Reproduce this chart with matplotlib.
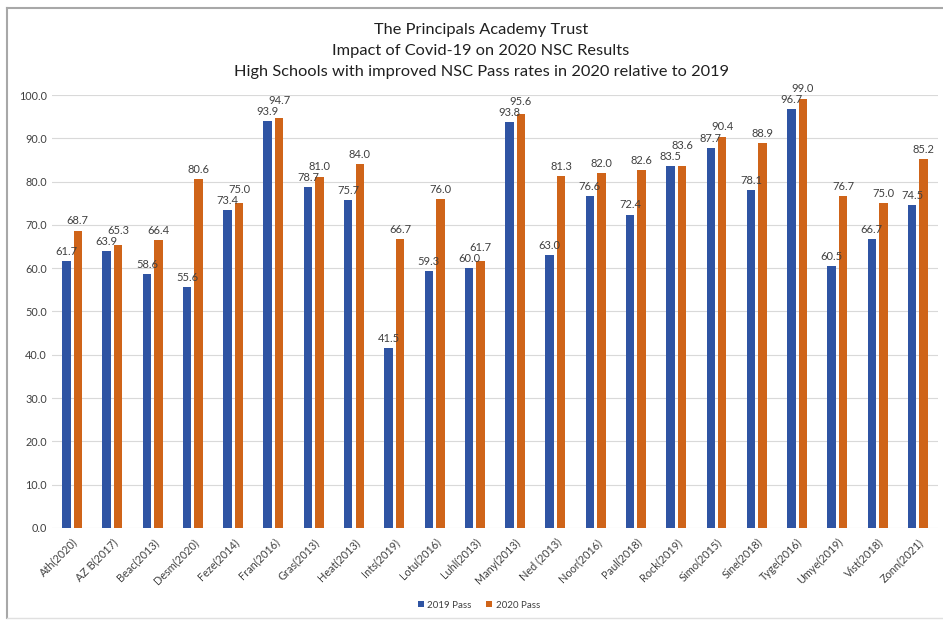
import matplotlib.pyplot as plt
import numpy as np
from matplotlib.lines import Line2D

schools = ["Ath(2020)", "AZ B(2017)", "Beac(2013)", "Desm(2020)", "Feze(2014)",
           "Fran(2016)", "Gras(2013)", "Heat(2013)", "Ints(2019)", "Lotu(2016)",
           "Luhl(2013)", "Many(2013)", "Ned (2013)", "Noor(2016)", "Paul(2018)",
           "Rock(2019)", "Simo(2015)", "Sine(2018)", "Tyge(2016)", "Umye(2019)",
           "Vist(2018)", "Zonn(2021)"]
pass_2019 = [61.7, 63.9, 58.6, 55.6, 73.4, 93.9, 78.7, 75.7, 41.5, 59.3, 60.0,
             93.8, 63.0, 76.6, 72.4, 83.5, 87.7, 78.1, 96.7, 60.5, 66.7, 74.5]
pass_2020 = [68.7, 65.3, 66.4, 80.6, 75.0, 94.7, 81.0, 84.0, 66.7, 76.0, 61.7,
             95.6, 81.3, 82.0, 82.6, 83.6, 90.4, 88.9, 99.0, 76.7, 75.0, 85.2]
title_lines = ["The Principals Academy Trust",
               "Impact of Covid-19 on 2020 NSC Results",
               "High Schools with improved NSC Pass rates in 2020 relative to 2019"]

plt.rcParams['font.family'] = ['Lato', 'DejaVu Sans']

blue = "#2F54A3"
orange = "#CF6419"
txt = "#404040"

fig = plt.figure(figsize=(9.43, 6.21), dpi=100)
ax_pos = [0.0551, 0.1498, 0.9396, 0.6972]
ax = fig.add_axes(ax_pos)

x = np.arange(len(schools))
w = 0.21
off = 0.143
b1 = ax.bar(x - off, pass_2019, w, color=blue, label="2019 Pass", zorder=3)
b2 = ax.bar(x + off, pass_2020, w, color=orange, label="2020 Pass", zorder=3)

# points per data unit, used to keep paired labels from sitting on top of each other
ppu = ax_pos[3] * 6.21 * 72 / 100
for r1, r2 in zip(b1, b2):
    v1, v2 = r1.get_height(), r2.get_height()
    dy2 = max(3, (v1 - v2) * ppu + 3 + 8)
    for r, dy in ((r1, 3), (r2, dy2)):
        ax.annotate(f"{r.get_height():.1f}", (r.get_x() + r.get_width() / 2, r.get_height()),
                    xytext=(0, dy), textcoords="offset points", ha="center", va="bottom",
                    fontsize=8, color=txt, zorder=4)

ax.set_xlim(-0.5, len(schools) - 0.5)
ax.set_ylim(0, 100)
ax.set_yticks(np.arange(0, 101, 10))
ax.set_yticklabels([f"{v:.1f}" for v in np.arange(0, 101, 10)])
ax.set_xticks(x)
ax.set_xticklabels(schools, rotation=45, ha="right", rotation_mode="anchor")
ax.tick_params(axis="both", length=0, labelsize=7.8, colors=txt)
ax.tick_params(axis="x", pad=6)
ax.grid(axis="y", color="#D9D9D9", linewidth=0.8, zorder=0)
for s in ax.spines.values():
    s.set_visible(False)

for i, line in enumerate(title_lines):
    fig.text(481 / 943, 1 - (30 + 21 * i) / 621, line, ha="center", va="center",
             fontsize=11.8, color="#202020")

leg = fig.legend(handles=[b1, b2], loc="center", bbox_to_anchor=(0.508, 1 - 605 / 621),
                 ncol=2, frameon=False, fontsize=7, handlelength=0.6, handleheight=0.6,
                 columnspacing=1.5, handletextpad=0.4)
for t in leg.get_texts():
    t.set_color(txt)

# chart area border
border = "#A8A8A8"
fig.add_artist(Line2D([7 / 943, 1], [1 - 8 / 621] * 2, color=border, lw=1.5))
fig.add_artist(Line2D([7 / 943] * 2, [1 - 8 / 621, 1 - 618 / 621], color=border, lw=1.5))
fig.add_artist(Line2D([7 / 943, 1], [1 - 618 / 621] * 2, color="#E0E0E0", lw=1.0))

fig.savefig("out.png", dpi=100)
